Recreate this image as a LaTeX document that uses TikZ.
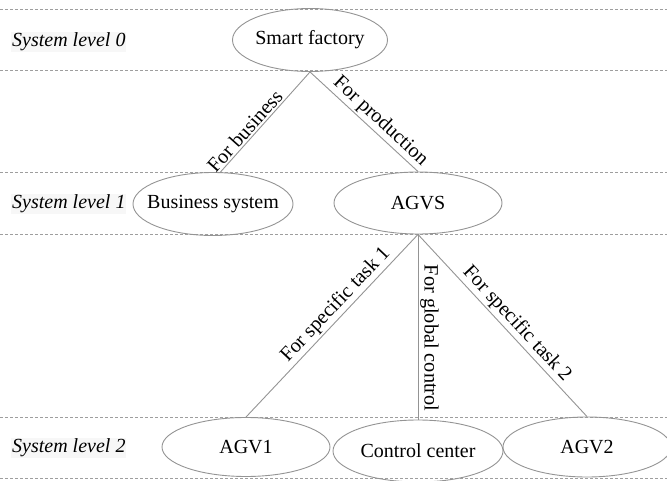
\documentclass[tikz,border=0pt]{standalone}
\usepackage{fontspec}
\setmainfont{Liberation Serif}
\usetikzlibrary{shapes.geometric}
\begin{document}
\begin{tikzpicture}[x=1pt,y=-1pt,
  every node/.style={font=\fontsize{20}{23}\selectfont},
  sysnode/.style={ellipse, draw=black!42, line width=0.9pt, inner sep=-25pt, text=black},
  link/.style={draw=black!42, line width=0.9pt},
  lvl/.style={draw=black!38, line width=0.7pt, dash pattern=on 3pt off 2pt},
  lvlname/.style={anchor=west, fill=black!3, inner sep=1pt,
    font=\fontsize{20}{23}\selectfont\itshape},
  edgelab/.style={sloped, above, inner sep=1.8pt, font=\fontsize{20.3}{23}\selectfont}]

\useasboundingbox (0,0) rectangle (667,481);
\fill[white] (0,0) rectangle (667,481);

% level separators
\foreach \yy in {9.5,70.5,172,234,417,478}
  \draw[lvl] (0,\yy) -- (667,\yy);

% level names
\node[lvlname] (l0) at (11,42) {System level 0};
\node[lvlname] (l1) at (11,204) {System level 1};
\node[lvlname] (l2) at (11,448) {System level 2};

% systems
\node[sysnode, minimum width=155pt, minimum height=63pt] (sf) at (310,40) {Smart factory};
\node[sysnode, minimum width=160pt, minimum height=63pt] (bs) at (213,204) {Business system};
\node[sysnode, minimum width=168pt, minimum height=62pt] (agvs) at (418,203) {AGVS};
\node[sysnode, minimum width=168pt, minimum height=59pt] (agv1) at (246,447) {AGV1};
\node[sysnode, minimum width=170pt, minimum height=62pt] (cc) at (418,451) {Control center};
\node[sysnode, minimum width=168pt, minimum height=60pt] (agv2) at (587,447) {AGV2};

% relations
\draw[link] (sf.south) -- node[edgelab, pos=0.65] {For business} (bs.77);
\draw[link] (sf.south) -- node[edgelab, pos=0.58] {For production} (agvs.north);
\draw[link] (agvs.south) -- node[edgelab, pos=0.43] {For specific task 1} (agv1.north);
\draw[link] (agvs.south) -- node[edgelab, pos=0.56] {For global control} (cc.north);
\draw[link] (agvs.south) -- node[edgelab, pos=0.535] {For specific task 2} (agv2.north);
\end{tikzpicture}
\end{document}
